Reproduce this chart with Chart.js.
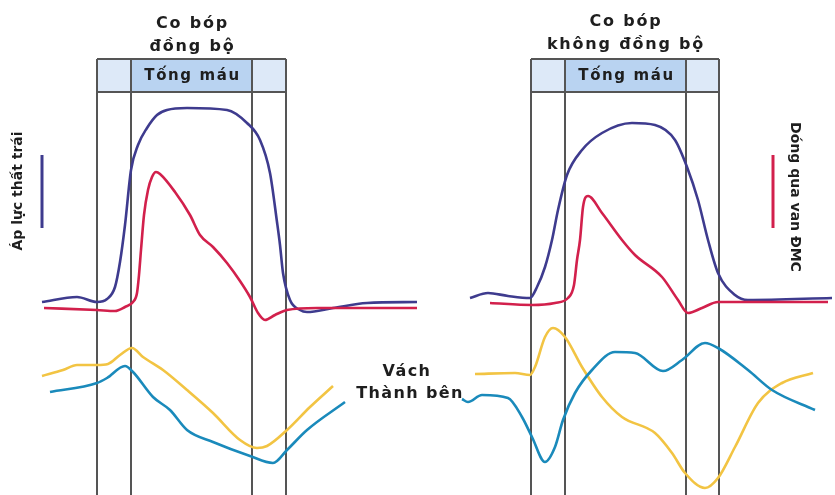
<!DOCTYPE html>
<html lang="vi">
<head>
<meta charset="utf-8">
<title>Co bóp đồng bộ và không đồng bộ</title>
<script src="https://cdn.jsdelivr.net/npm/chart.js@4"></script>
<style>
  html, body { margin: 0; padding: 0; background: #ffffff; }
  #wrap { width: 835px; height: 495px; }
</style>
</head>
<body>
<div id="wrap"><canvas id="c" width="835" height="495"></canvas></div>
<script>
// Time axis (arbitrary units) and amplitude axis (arbitrary units)
const X_MAX = 167;
const Y_MAX = 99;

// Phase boundaries: pre-ejection | ejection ("Tống máu") | relaxation
const phasesSync  = [19.4, 26.2, 50.4, 57.2];
const phasesAsync = [106.2, 113, 137.2, 143.8];
const headerTop = 87.2;
const headerBottom = 80.6;

const titleSync  = ['Co bóp', 'đồng bộ'];
const titleAsync = ['Co bóp', 'không đồng bộ'];
const titleRowsSync  = [94.2, 89.7];
const titleRowsAsync = [94.6, 90.1];
const ejectionLabel = 'Tống máu';
const wallLabel = ['Vách', 'Thành bên'];
const pressureLabel = 'Áp lực thất trái';
const flowLabel = 'Dóng qua van ĐMC';

// Left ventricular pressure, synchronous contraction
const lvPressureSync = [
  [8.4,38.6],[15.4,39.6],[19.4,38.6],[21.4,39.2],[23,41.6],[24,46.6],[25,54],
  [26.2,65],[27.6,70],[29.4,73.4],[31.4,76],[33.4,77],[37.4,77.4],[45.4,77],
  [49.4,74.4],[52,71],[54,64.4],[55.4,54.6],[56,50],[56.6,44.4],[58,39],
  [60,37],[61.4,36.6],[66.6,37.4],[73.4,38.4],[83.4,38.6]
];
// Aortic valve flow, synchronous contraction
const aorticFlowSync = [
  [8.8,37.4],[19.4,37],[23,36.8],[25,37.6],[26.6,38.6],[27.4,40.4],[27.8,44],
  [28.2,49],[28.8,56],[29.6,61],[30.4,63.6],[31.2,64.6],[32,64.2],[35,60.6],
  [38,56],[40,52],[42.6,49.6],[45.4,46.4],[48,42.8],[50,39.6],[51.6,36.4],
  [53,35],[55,36],[57.4,37],[63.4,37.4],[83.4,37.4]
];
// Septal wall motion, synchronous contraction
const septumSync = [
  [8.4,23.8],[12.6,25],[15.4,26],[19.4,26],[21.6,26.2],[24,28],[26.4,29.4],
  [28.6,27.6],[32.6,25],[37.4,21],[42.6,16.4],[48,11],[51.4,9.4],[53.4,9.8],
  [57.4,13],[62,17.6],[66.6,21.8]
];
// Lateral wall motion, synchronous contraction
const lateralSync = [
  [10,20.6],[19.4,22.4],[21.4,23.4],[25,25.8],[26.6,24.6],[30.6,19.6],[34,17],
  [37.4,13],[42.6,10.6],[50,7.8],[54.6,6.4],[57.4,9],[61.4,13],[69,18.6]
];

// Left ventricular pressure, dyssynchronous contraction
const lvPressureAsync = [
  [94,39.4],[97.6,40.4],[101.6,39.8],[106,39.4],[107.4,41.6],[109,45.6],
  [110.4,51],[111.6,57],[113.4,64],[116.4,69],[120.4,72.4],[126.4,74.4],
  [131,74],[135,71],[137.4,65.6],[139.6,59],[141.6,51],[143.6,44.4],
  [147,40],[149.6,39],[166.4,39.4]
];
// Aortic valve flow, dyssynchronous contraction
const aorticFlowAsync = [
  [98,38.4],[106.4,38],[111,38.4],[113.6,39.4],[114.8,42],[115.4,47],[116,51],
  [116.6,57.6],[117.6,59.8],[120.4,56.4],[124.4,51],[127,48],[132.4,43.6],
  [135.6,39],[137.6,36.4],[140.4,37.4],[143.6,38.6],[149.6,38.6],[165.6,38.6]
];
// Septal wall motion, dyssynchronous contraction
const septumAsync = [
  [95,24.2],[103,24.4],[106,24],[107,25.6],[109,31.6],[110.6,33.4],[113,31.6],
  [116.4,25.6],[120.4,19.6],[124.4,15.6],[131,12.4],[134.4,8.4],[137,4.4],
  [141,1.4],[143.6,3.4],[147,9.6],[151.6,18.4],[156.4,22.4],[162.6,24.4]
];
// Lateral wall motion, dyssynchronous contraction
const lateralAsync = [
  [92.4,19.2],[93.6,18.6],[96.4,20],[101.6,19.4],[104.4,15.6],[106.4,11.6],
  [109,6.6],[111,9.6],[112.6,15],[115,20.4],[118.4,25],[123,28.6],[127,28.4],
  [132.6,24.8],[136.4,27],[141,30.4],[143.6,29.4],[149.6,25],[154.4,21],[163,17]
];

// Legend swatches beside the rotated axis captions
const pressureKey = [[8.4,68],[8.4,53.4]];
const flowKey = [[154.6,68],[154.6,53.4]];

const NAVY = '#3e3b8e';
const RED = '#d2204c';
const YELLOW = '#f2c443';
const TEAL = '#1a8abb';
const FRAME = '#555555';

const toXY = arr => arr.map(p => ({ x: p[0], y: p[1] }));
const series = (data, color) => ({
  data: toXY(data),
  borderColor: color,
  borderWidth: 2.6,
  pointRadius: 0,
  fill: false,
  cubicInterpolationMode: 'monotone'
});

const FONT = '"DejaVu Sans", "Open Sans", sans-serif';

// Header boxes and phase divider lines, behind the curves
const phaseFrame = {
  id: 'phaseFrame',
  beforeDatasetsDraw(chart) {
    const { ctx, scales: { x, y } } = chart;
    const top = y.getPixelForValue(headerTop);
    const bot = y.getPixelForValue(headerBottom);
    const floor = y.getPixelForValue(0);
    ctx.save();
    [phasesSync, phasesAsync].forEach(ph => {
      const px = ph.map(v => x.getPixelForValue(v));
      ctx.fillStyle = '#dde9f8';
      ctx.fillRect(px[0], top, px[3] - px[0], bot - top);
      ctx.fillStyle = '#b9d3f1';
      ctx.fillRect(px[1], top, px[2] - px[1], bot - top);
      ctx.strokeStyle = FRAME;
      ctx.lineWidth = 2;
      ctx.beginPath();
      ctx.moveTo(px[0], top); ctx.lineTo(px[3], top);
      ctx.moveTo(px[0], bot); ctx.lineTo(px[3], bot);
      px.forEach(p => { ctx.moveTo(p, top); ctx.lineTo(p, floor); });
      ctx.stroke();
      ctx.fillStyle = '#1e1e1e';
      ctx.font = 'bold 15px ' + FONT;
      ctx.letterSpacing = '1.6px';
      ctx.textAlign = 'center';
      ctx.textBaseline = 'middle';
      ctx.fillText(ejectionLabel, (px[1] + px[2]) / 2 + 1, (top + bot) / 2 + 1);
    });
    ctx.restore();
  },
  afterDatasetsDraw(chart) {
    const { ctx, scales: { x, y } } = chart;
    ctx.save();
    ctx.fillStyle = '#1e1e1e';
    ctx.textAlign = 'center';
    ctx.textBaseline = 'middle';
    ctx.font = 'bold 16px ' + FONT;
    ctx.letterSpacing = '1.8px';
    [[phasesSync, titleSync, titleRowsSync], [phasesAsync, titleAsync, titleRowsAsync]].forEach(([ph, t, rows]) => {
      const cx = x.getPixelForValue((ph[0] + ph[3]) / 2) + 1;
      ctx.fillText(t[0], cx, y.getPixelForValue(rows[0]));
      ctx.fillText(t[1], cx, y.getPixelForValue(rows[1]));
    });
    // wall labels between the panels
    ctx.letterSpacing = '1.4px';
    ctx.fillText(wallLabel[0], x.getPixelForValue(81.4), y.getPixelForValue(24.6));
    ctx.fillText(wallLabel[1], x.getPixelForValue(82), y.getPixelForValue(20.2));

    // rotated captions
    ctx.font = 'bold 14px ' + FONT;
    ctx.letterSpacing = '0px';
    ctx.save();
    ctx.translate(x.getPixelForValue(3.6), y.getPixelForValue(60.8));
    ctx.rotate(-Math.PI / 2);
    ctx.fillText(pressureLabel, 0, 0);
    ctx.restore();
    ctx.save();
    ctx.translate(x.getPixelForValue(159), y.getPixelForValue(59.6));
    ctx.rotate(Math.PI / 2);
    ctx.fillText(flowLabel, 0, 0);
    ctx.restore();
    ctx.restore();
  }
};

new Chart(document.getElementById('c'), {
  type: 'line',
  data: {
    datasets: [
      series(lateralSync, TEAL),
      series(septumSync, YELLOW),
      series(aorticFlowSync, RED),
      series(lvPressureSync, NAVY),
      series(lateralAsync, TEAL),
      series(septumAsync, YELLOW),
      series(aorticFlowAsync, RED),
      series(lvPressureAsync, NAVY),
      { ...series(pressureKey, NAVY), borderWidth: 3 },
      { ...series(flowKey, RED), borderWidth: 3 }
    ]
  },
  options: {
    responsive: false,
    devicePixelRatio: 1,
    animation: false,
    layout: { padding: 0 },
    plugins: { legend: { display: false }, tooltip: { enabled: false } },
    scales: {
      x: { type: 'linear', min: 0, max: X_MAX, display: false },
      y: { type: 'linear', min: 0, max: Y_MAX, display: false }
    }
  },
  plugins: [phaseFrame]
});
</script>
</body>
</html>
